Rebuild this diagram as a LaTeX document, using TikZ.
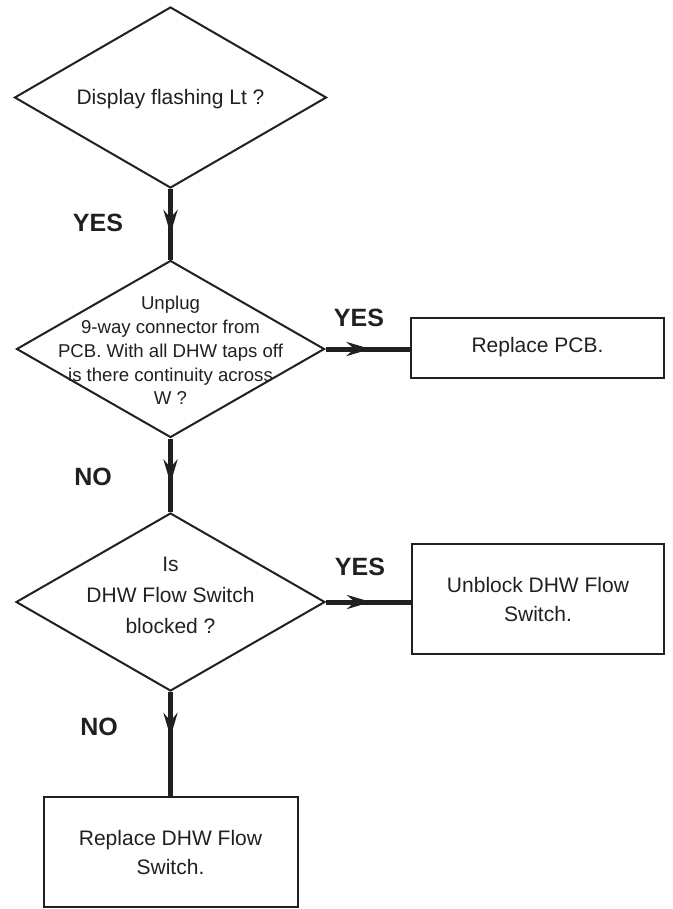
\documentclass[tikz,border=0pt]{standalone}
\usepackage{fontspec}
\setmainfont{Liberation Sans}
\usetikzlibrary{shapes.geometric,arrows.meta,decorations.markings}
\definecolor{ink}{RGB}{35,31,32}
\begin{document}
\begin{tikzpicture}[x=1pt,y=-1pt,
  every node/.style={text=ink},
  decision/.style={diamond, draw=ink, line width=2pt, inner sep=0pt},
  actionbox/.style={rectangle, draw=ink, line width=2pt, inner sep=0pt, align=center,
    font=\fontsize{21}{29}\selectfont},
  qtext/.style={align=center, inner sep=0pt},
  answer/.style={font=\fontsize{25}{30}\selectfont\bfseries, inner sep=0pt},
  conn/.style={draw=ink, line width=5pt, postaction={decorate},
    decoration={markings, mark=at position 45pt with {\arrow{Stealth[length=24pt,width=14pt,inset=8pt]}}}}
]
\useasboundingbox (0,0) rectangle (672,909);

% decisions
\node[decision, minimum width=312pt, minimum height=181pt] (d1) at (170.5,97.5) {};
\node[qtext, font=\fontsize{21}{29}\selectfont] (t1) at (170.5,99.5) {Display flashing Lt ?};

\node[decision, minimum width=308pt, minimum height=177pt] (d2) at (170.5,349) {};
\node[qtext, font=\fontsize{18.6}{23.8}\selectfont] (t2) at (170.5,350.5) {Unplug\\9-way connector from\\PCB. With all DHW taps off\\is there continuity across\\W ?};

\node[decision, minimum width=309pt, minimum height=178pt] (d3) at (170.5,602) {};
\node[qtext, font=\fontsize{21}{31}\selectfont] (t3) at (170.5,595.5) {Is\\DHW Flow Switch\\blocked ?};

% actions
\node[actionbox, minimum width=253pt, minimum height=60pt] (pcb) at (537.5,347.5) {Replace PCB.};
\node[actionbox, minimum width=252pt, minimum height=110pt] (ub) at (538,599) {Unblock DHW Flow\\Switch.};
\node[actionbox, minimum width=254pt, minimum height=110pt] (rs) at (170.5,852) {Replace DHW Flow\\Switch.};

% connectors
\draw[conn] (d1.south) -- (d2.north);
\draw[conn] (d2.east) -- (d2.east -| pcb.west);
\draw[conn] (d2.south) -- (d3.north);
\draw[conn] (d3.east) -- (d3.east -| ub.west);
\draw[conn] (d3.south) -- (rs.north);

% answers
\node[answer] (a1) at (98,223) {YES};
\node[answer] (a2) at (359,318) {YES};
\node[answer] (a3) at (93,477) {NO};
\node[answer] (a4) at (360,567) {YES};
\node[answer] (a5) at (99,727) {NO};
\end{tikzpicture}
\end{document}
